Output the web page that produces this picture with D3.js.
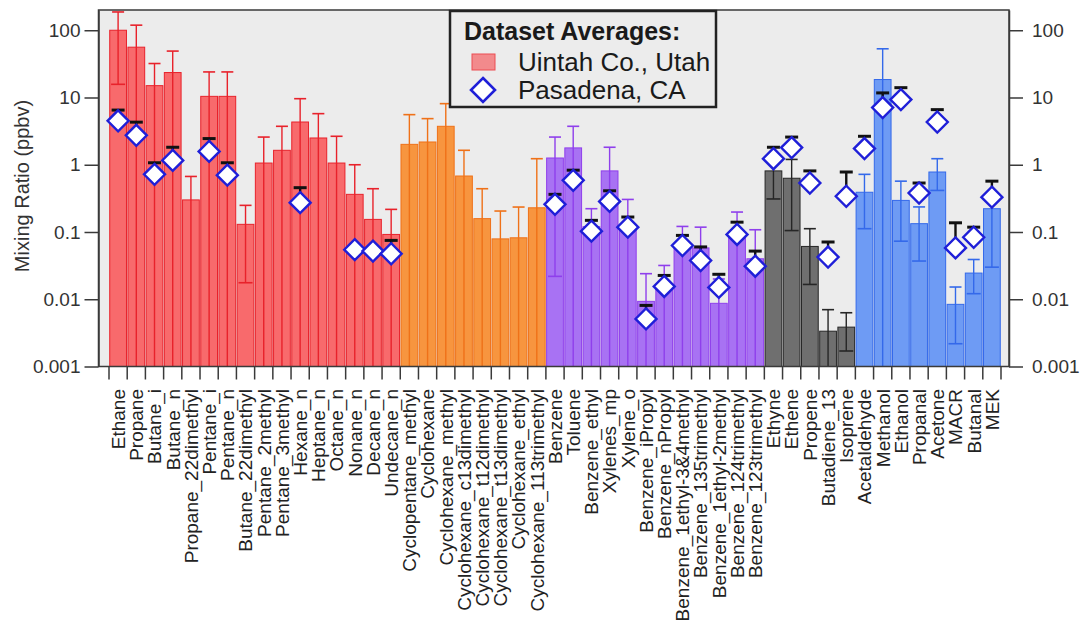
<!DOCTYPE html>
<html>
<head>
<meta charset="utf-8">
<script src="https://cdn.jsdelivr.net/npm/d3@7"></script>
<style>
  html, body { margin: 0; padding: 0; background: #ffffff; }
  svg { display: block; font-family: "Liberation Sans", Arial, sans-serif; }
</style>
</head>
<body>
<svg id="chart" width="1081" height="624"></svg>
<script>
// ---------------- DATA ----------------
const categories = [
  "Ethane","Propane","Butane_i","Butane_n","Propane_22dimethyl","Pentane_i","Pentane_n",
  "Butane_22dimethyl","Pentane_2methyl","Pentane_3methyl","Hexane_n","Heptane_n","Octane_n",
  "Nonane_n","Decane_n","Undecane_n",
  "Cyclopentane_methyl","Cyclohexane","Cyclohexane_methyl","Cyclohexane_c13dimethyl",
  "Cyclohexane_t12dimethyl","Cyclohexane_t13dimethyl","Cyclohexane_ethyl","Cyclohexane_113trimethyl",
  "Benzene","Toluene","Benzene_ethyl","Xylenes_mp","Xylene_o","Benzene_iPropyl","Benzene_nPropyl",
  "Benzene_1ethyl-3&4methyl","Benzene_135trimethyl","Benzene_1ethyl-2methyl","Benzene_124trimethyl",
  "Benzene_123trimethyl",
  "Ethyne","Ethene","Propene","Butadiene_13","Isoprene",
  "Acetaldehyde","Methanol","Ethanol","Propanal","Acetone","MACR","Butanal","MEK"
];

const categoryGroup = [
  "alkane","alkane","alkane","alkane","alkane","alkane","alkane","alkane",
  "alkane","alkane","alkane","alkane","alkane","alkane","alkane","alkane",
  "cycloalkane","cycloalkane","cycloalkane","cycloalkane",
  "cycloalkane","cycloalkane","cycloalkane","cycloalkane",
  "aromatic","aromatic","aromatic","aromatic","aromatic","aromatic",
  "aromatic","aromatic","aromatic","aromatic","aromatic","aromatic",
  "alkene","alkene","alkene","alkene","alkene",
  "oxygenated","oxygenated","oxygenated","oxygenated","oxygenated","oxygenated","oxygenated","oxygenated"
];

// Uintah Co., Utah averages (ppbv) and error bar ends
const uintah = [
  100, 56, 15, 23.5, 0.30, 10.4, 10.4, 0.13, 1.06, 1.64, 4.32, 2.5, 1.06, 0.363, 0.154, 0.092,
  2.01, 2.18, 3.73, 0.68, 0.158, 0.079, 0.082, 0.229,
  1.26, 1.78, 0.12, 0.81, 0.13, 0.0093, 0.016, 0.065, 0.058, 0.0087, 0.09, 0.04,
  0.81, 0.63, 0.061, 0.00335, 0.00385,
  0.39, 18.5, 0.295, 0.133, 0.78, 0.0084, 0.0245, 0.222
];
const uintahHi = [
  187, 119, 32, 49, 0.67, 24, 24, 0.249, 2.58, 3.73, 9.6, 5.75, 2.65, 1.0, 0.44, 0.217,
  5.56, 4.85, 8.1, 1.64, 0.44, 0.205, 0.235, 1.23,
  2.58, 3.73, 0.222, 1.82, 0.305, 0.024, 0.0318, 0.121, 0.118, 0.02, 0.198, 0.108,
  1.1, 1.2, 0.112, 0.007, 0.0063,
  0.72, 53, 0.57, 0.236, 1.23, 0.0152, 0.039, 0.35
];
// null = lower end below the axis
const uintahLo = [
  15.7, null, null, null, null, null, null, 0.0176, null, null, null, null, null, null, null, null,
  null, null, null, null, null, null, null, null,
  0.0219, null, null, null, null, null, null, null, null, null, null, null,
  0.31, 0.105, 0.0166, null, 0.0017,
  0.112, null, 0.073, 0.037, 0.415, 0.00218, 0.0121, 0.030
];

// Pasadena, CA averages (ppbv) and upper error ends
const pasadena = [
  4.5, 2.74, 0.72, 1.16, null, 1.58, 0.70, null, null, null, 0.273, null, null, 0.0546, 0.052, 0.0475,
  null, null, null, null, null, null, null, null,
  0.258, 0.586, 0.103, 0.285, 0.118, 0.0051, 0.0155, 0.063, 0.0377, 0.015, 0.092, 0.031,
  1.23, 1.8, 0.535, 0.0424, 0.34,
  1.74, 7.07, 9.3, 0.38, 4.32, 0.058, 0.0835, 0.33
];
const pasadenaHi = [
  6.5, 4.3, 1.07, 1.82, null, 2.45, 1.07, null, null, null, 0.456, null, null, null, null, 0.075,
  null, null, null, null, null, null, null, null,
  0.363, 0.83, 0.149, 0.41, 0.167, 0.0081, 0.0226, 0.089, 0.06, 0.0235, 0.14, 0.052,
  1.82, 2.58, 0.81, 0.071, 0.78,
  2.65, 11.7, 14, 0.535, 6.6, 0.137, 0.118, 0.57
];

const yTicks = [0.001, 0.01, 0.1, 1, 10, 100];
const yTickLabels = ["0.001", "0.01", "0.1", "1", "10", "100"];
const yTitle = "Mixing Ratio (ppbv)";
const legendTitle = "Dataset Averages:";
const seriesNames = ["Uintah Co., Utah", "Pasadena, CA"];

// ---------------- STYLE ----------------
const groupFill = {
  alkane: "#f86a6c", cycloalkane: "#f7953f", aromatic: "#a872f3",
  alkene: "#6f6f6f", oxygenated: "#6e9bf4"
};
const groupStroke = {
  alkane: "#e8222b", cycloalkane: "#ef7118", aromatic: "#8f3fec",
  alkene: "#262626", oxygenated: "#3469ea"
};

const plot = { left: 98.5, right: 1009, top: 10, bottom: 366.5 };

const svg = d3.select("#chart");

const x = d3.scaleBand()
  .domain(categories)
  .range([109, 1001])
  .paddingInner(0.08)
  .paddingOuter(0.04);

const y = d3.scaleLog()
  .domain([0.001, 200])
  .range([plot.bottom, plot.top]);

// plot background
svg.append("rect")
  .attr("x", plot.left).attr("y", plot.top)
  .attr("width", plot.right - plot.left).attr("height", plot.bottom - plot.top)
  .attr("fill", "#ececec");

const idx = d3.range(categories.length);

// bars
svg.append("g").selectAll("rect")
  .data(idx).join("rect")
  .attr("x", i => x(categories[i]))
  .attr("width", x.bandwidth())
  .attr("y", i => y(uintah[i]))
  .attr("height", i => plot.bottom - y(uintah[i]))
  .attr("fill", i => groupFill[categoryGroup[i]])
  .attr("stroke", i => groupStroke[categoryGroup[i]])
  .attr("stroke-width", 1);

// bar error bars
const capW = 12;
const eb = svg.append("g");
idx.forEach(i => {
  const cx = x(categories[i]) + x.bandwidth() / 2;
  const col = groupStroke[categoryGroup[i]];
  const hi = uintahHi[i], lo = uintahLo[i];
  const yHi = Math.max(plot.top, y(hi));
  const yLo = lo == null ? plot.bottom : y(lo);
  eb.append("line").attr("x1", cx).attr("x2", cx)
    .attr("y1", yHi).attr("y2", yLo)
    .attr("stroke", col).attr("stroke-width", 1.4);
  if (y(hi) >= plot.top) {
    eb.append("line").attr("x1", cx - capW / 2).attr("x2", cx + capW / 2)
      .attr("y1", yHi).attr("y2", yHi)
      .attr("stroke", col).attr("stroke-width", 1.6);
  }
  if (lo != null) {
    eb.append("line").attr("x1", cx - capW / 2 - 1).attr("x2", cx + capW / 2 + 1)
      .attr("y1", yLo).attr("y2", yLo)
      .attr("stroke", col).attr("stroke-width", 1.6);
  }
});

// Pasadena error bars
const pe = svg.append("g");
idx.forEach(i => {
  if (pasadena[i] == null || pasadenaHi[i] == null) return;
  const cx = x(categories[i]) + x.bandwidth() / 2;
  pe.append("line").attr("x1", cx).attr("x2", cx)
    .attr("y1", y(pasadena[i])).attr("y2", y(pasadenaHi[i]))
    .attr("stroke", "#111").attr("stroke-width", 2.4);
  pe.append("line").attr("x1", cx - 6.5).attr("x2", cx + 6.5)
    .attr("y1", y(pasadenaHi[i])).attr("y2", y(pasadenaHi[i]))
    .attr("stroke", "#111").attr("stroke-width", 3);
});

// Pasadena diamonds
const dh = 10.5;
const diamond = (cx, cy, h) => `M${cx},${cy - h}L${cx + h},${cy}L${cx},${cy + h}L${cx - h},${cy}Z`;
svg.append("g").selectAll("path")
  .data(idx.filter(i => pasadena[i] != null)).join("path")
  .attr("d", i => diamond(x(categories[i]) + x.bandwidth() / 2, y(pasadena[i]), dh))
  .attr("fill", "#ffffff")
  .attr("stroke", "#1f1fd8")
  .attr("stroke-width", 2.4);

// frame
svg.append("rect")
  .attr("x", plot.left).attr("y", plot.top)
  .attr("width", plot.right - plot.left).attr("height", plot.bottom - plot.top)
  .attr("fill", "none").attr("stroke", "#3a3a3a").attr("stroke-width", 1.5);

// axes
const fmt = v => yTickLabels[yTicks.indexOf(v)];
const leftAxis = svg.append("g")
  .attr("transform", `translate(${plot.left},0)`)
  .call(d3.axisLeft(y).tickValues(yTicks).tickFormat(fmt).tickSize(14).tickPadding(4).tickSizeOuter(0));
const rightAxis = svg.append("g")
  .attr("transform", `translate(${plot.right},0)`)
  .call(d3.axisRight(y).tickValues(yTicks).tickFormat(fmt).tickSize(14).tickPadding(9).tickSizeOuter(0));
[leftAxis, rightAxis].forEach(a => {
  a.select(".domain").attr("stroke", "#3a3a3a").attr("stroke-width", 1.5);
  a.selectAll(".tick line").attr("stroke", "#3a3a3a").attr("stroke-width", 1.5);
  a.selectAll(".tick text").attr("font-size", 19).attr("fill", "#333")
    .attr("font-family", "'Liberation Sans', Arial, sans-serif");
});

// bottom category ticks at boundaries
const bounds = categories.map(c => x(c) - x.step() * x.paddingInner() / 2);
bounds.push(x(categories[categories.length - 1]) + x.bandwidth() + x.step() * x.paddingInner() / 2);
svg.append("g").selectAll("line")
  .data(bounds).join("line")
  .attr("x1", d => d).attr("x2", d => d)
  .attr("y1", plot.bottom).attr("y2", plot.bottom + 13)
  .attr("stroke", "#3a3a3a").attr("stroke-width", 1.5);

// category labels
svg.append("g").selectAll("text")
  .data(categories).join("text")
  .attr("transform", d => `translate(${x(d) + x.bandwidth() / 2},389) rotate(-90)`)
  .attr("text-anchor", "end")
  .attr("dy", "0.36em")
  .attr("font-size", 19)
  .attr("fill", "#222")
  .text(d => d);

// y title
svg.append("text")
  .attr("transform", "translate(22,186) rotate(-90)")
  .attr("text-anchor", "middle")
  .attr("dy", "0.35em")
  .attr("font-size", 20)
  .attr("fill", "#333")
  .text(yTitle);

// legend
const lg = svg.append("g");
lg.append("rect").attr("x", 450).attr("y", 11).attr("width", 266).attr("height", 96)
  .attr("fill", "#ececec").attr("stroke", "#222").attr("stroke-width", 2.5);
lg.append("text").attr("x", 464).attr("y", 40)
  .attr("font-size", 25).attr("font-weight", "bold").attr("fill", "#1a1a1a")
  .text(legendTitle);
lg.append("rect").attr("x", 472).attr("y", 54).attr("width", 23).attr("height", 16)
  .attr("fill", "#f28a8c").attr("stroke", "#ec4c52").attr("stroke-width", 1);
lg.append("text").attr("x", 518).attr("y", 71)
  .attr("font-size", 26).attr("fill", "#1a1a1a").text(seriesNames[0]);
lg.append("path").attr("d", diamond(483, 90, 12))
  .attr("fill", "#fff").attr("stroke", "#1f1fd8").attr("stroke-width", 2.6);
lg.append("text").attr("x", 518).attr("y", 99)
  .attr("font-size", 26).attr("fill", "#1a1a1a").text(seriesNames[1]);
</script>
</body>
</html>
